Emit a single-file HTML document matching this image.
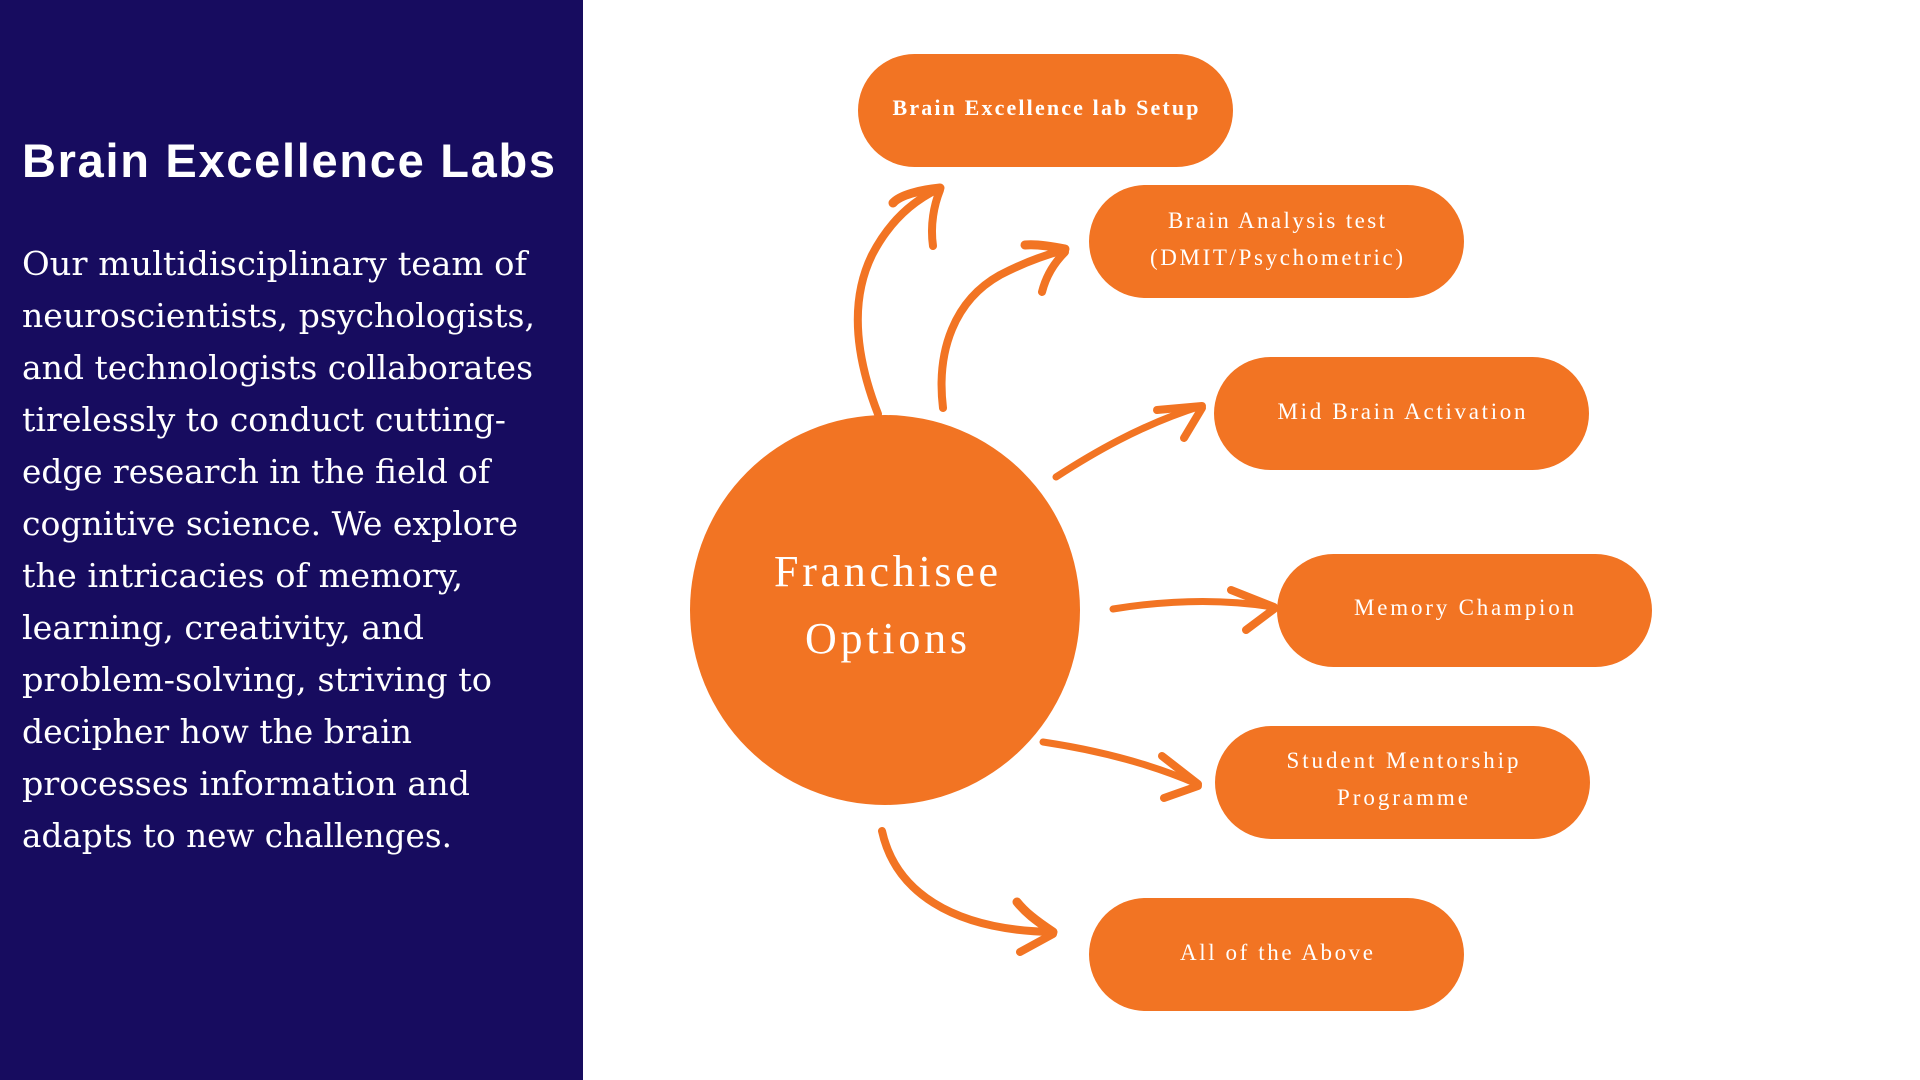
<!DOCTYPE html>
<html>
<head>
<meta charset="utf-8">
<style>
  html, body { margin:0; padding:0; width:1920px; height:1080px; overflow:hidden; background:#ffffff; }
  svg { display:block; }
</style>
</head>
<body>
<svg width="1920" height="1080" viewBox="0 0 1920 1080" xmlns="http://www.w3.org/2000/svg">
  <rect x="0" y="0" width="1920" height="1080" fill="#ffffff"/>
  <!-- Left panel -->
  <rect x="0" y="0" width="583" height="1080" fill="#170c5f"/>
  <text x="22" y="177" font-family="'Liberation Sans', sans-serif" font-weight="bold" font-size="47" fill="#ffffff" textLength="533" lengthAdjust="spacing">Brain Excellence Labs</text>
  <g font-family="'DejaVu Serif', 'Liberation Serif', serif" font-size="33" fill="#ffffff">
    <text x="22" y="275" textLength="505" lengthAdjust="spacingAndGlyphs">Our multidisciplinary team of</text>
    <text x="22" y="327" textLength="513" lengthAdjust="spacingAndGlyphs">neuroscientists, psychologists,</text>
    <text x="22" y="379" textLength="511" lengthAdjust="spacingAndGlyphs">and technologists collaborates</text>
    <text x="22" y="431" textLength="484" lengthAdjust="spacingAndGlyphs">tirelessly to conduct cutting-</text>
    <text x="22" y="483" textLength="468" lengthAdjust="spacingAndGlyphs">edge research in the field of</text>
    <text x="22" y="535" textLength="496" lengthAdjust="spacingAndGlyphs">cognitive science. We explore</text>
    <text x="22" y="587" textLength="441" lengthAdjust="spacingAndGlyphs">the intricacies of memory,</text>
    <text x="22" y="639" textLength="402" lengthAdjust="spacingAndGlyphs">learning, creativity, and</text>
    <text x="22" y="691" textLength="470" lengthAdjust="spacingAndGlyphs">problem-solving, striving to</text>
    <text x="22" y="743" textLength="390" lengthAdjust="spacingAndGlyphs">decipher how the brain</text>
    <text x="22" y="795" textLength="448" lengthAdjust="spacingAndGlyphs">processes information and</text>
    <text x="22" y="847" textLength="430" lengthAdjust="spacingAndGlyphs">adapts to new challenges.</text>
  </g>

  <!-- Center circle -->
  <circle cx="885" cy="610" r="195" fill="#f27423"/>
  <g font-family="'Liberation Serif', serif" font-size="44" fill="#ffffff" text-anchor="middle">
    <text x="886" y="586" textLength="224" lengthAdjust="spacing">Franchisee</text>
    <text x="886" y="653" textLength="162" lengthAdjust="spacing">Options</text>
  </g>

  <!-- Pills -->
  <g fill="#f27423">
    <rect x="858" y="54" width="375" height="113" rx="56.5" ry="56.5"/>
    <rect x="1089" y="185" width="375" height="113" rx="56.5" ry="56.5"/>
    <rect x="1214" y="357" width="375" height="113" rx="56.5" ry="56.5"/>
    <rect x="1277" y="554" width="375" height="113" rx="56.5" ry="56.5"/>
    <rect x="1215" y="726" width="375" height="113" rx="56.5" ry="56.5"/>
    <rect x="1089" y="898" width="375" height="113" rx="56.5" ry="56.5"/>
  </g>
  <g font-family="'Liberation Serif', serif" fill="#ffffff" text-anchor="middle">
    <text x="1045.5" y="115" font-size="22" font-weight="bold" textLength="306" lengthAdjust="spacing">Brain Excellence lab Setup</text>
    <text x="1276.5" y="228" font-size="23" textLength="217" lengthAdjust="spacing">Brain Analysis test</text>
    <text x="1276.5" y="265" font-size="23" textLength="253" lengthAdjust="spacing">(DMIT/Psychometric)</text>
    <text x="1401.5" y="419" font-size="23" textLength="248" lengthAdjust="spacing">Mid Brain Activation</text>
    <text x="1464" y="615" font-size="23" textLength="220" lengthAdjust="spacing">Memory Champion</text>
    <text x="1402.5" y="768" font-size="23" textLength="232" lengthAdjust="spacing">Student Mentorship</text>
    <text x="1402.5" y="805" font-size="23" textLength="131" lengthAdjust="spacing">Programme</text>
    <text x="1276.5" y="960" font-size="23" textLength="193" lengthAdjust="spacing">All of the Above</text>
  </g>

  <!-- Arrows -->
  <g fill="none" stroke="#f27423" stroke-linecap="round" stroke-linejoin="round">
    <!-- Arrow 1 -->
    <path d="M878,414 C855,355 850,300 872,255 C890,220 915,200 938,189" stroke-width="8"/>
    <path d="M940,188 C920,190 900,195 893,203" stroke-width="9"/>
    <path d="M940,190 C934,205 930,225 933,246" stroke-width="8"/>
    <!-- Arrow 2 -->
    <path d="M943,408 C936,350 955,300 1000,275 C1025,262 1045,255 1064,250" stroke-width="8"/>
    <path d="M1065,249 C1050,246 1035,244 1025,245" stroke-width="9"/>
    <path d="M1065,252 C1052,265 1045,280 1042,292" stroke-width="8"/>
    <!-- Arrow 3 -->
    <path d="M1056,477 C1090,455 1140,425 1201,406" stroke-width="7"/>
    <path d="M1202,406 L1157,410" stroke-width="8"/>
    <path d="M1202,408 L1184,438" stroke-width="8"/>
    <!-- Arrow 4 -->
    <path d="M1113,609 Q1200,595 1273,607" stroke-width="7"/>
    <path d="M1274,607 L1231,590" stroke-width="8"/>
    <path d="M1274,609 L1246,630" stroke-width="8"/>
    <!-- Arrow 5 -->
    <path d="M1043,742 Q1130,755 1197,784" stroke-width="7"/>
    <path d="M1198,784 L1162,756" stroke-width="8"/>
    <path d="M1198,786 L1164,798" stroke-width="8"/>
    <!-- Arrow 6 -->
    <path d="M882,831 C895,890 950,930 1052,932" stroke-width="8"/>
    <path d="M1053,932 C1035,920 1025,912 1017,902" stroke-width="9"/>
    <path d="M1053,934 L1020,952" stroke-width="8"/>
  </g>
</svg>
</body>
</html>
